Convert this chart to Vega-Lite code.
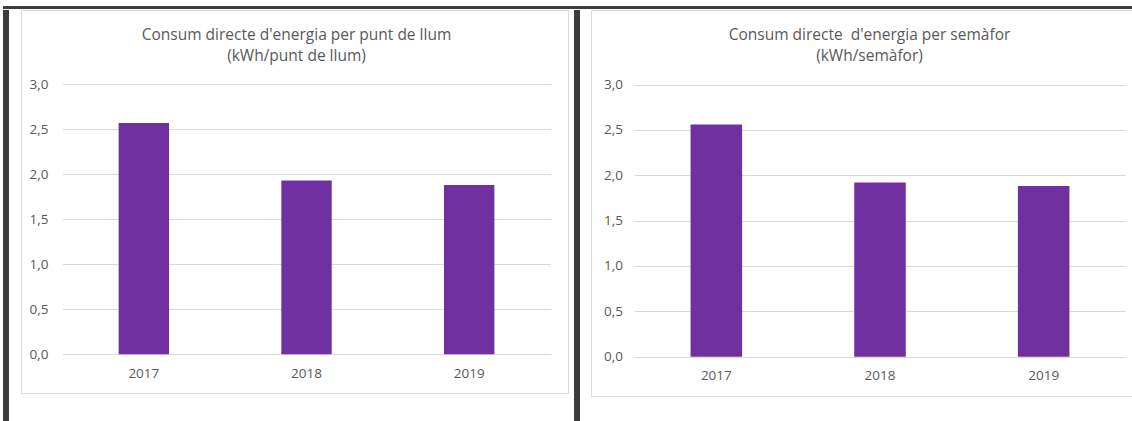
{
  "$schema": "https://vega.github.io/schema/vega-lite/v6.json",
  "padding": {"left": 3, "top": 6, "right": 0, "bottom": 0},
  "background": "white",
  "config": {"view": {"stroke": null}, "font": "Open Sans"},
  "datasets": {
    "punt_llum": [
      {"any": "2017", "valor": 2.57},
      {"any": "2018", "valor": 1.93},
      {"any": "2019", "valor": 1.88}
    ],
    "semafor": [
      {"any": "2017", "valor": 2.56},
      {"any": "2018", "valor": 1.92},
      {"any": "2019", "valor": 1.88}
    ]
  },
  "spacing": 0,
  "vconcat": [
    {
      "width": 1129, "height": 3,
      "view": {"fill": "#3c3c3c", "stroke": null},
      "data": {"values": []},
      "mark": "rect"
    },
    {
      "spacing": 11,
      "hconcat": [
        {
          "width": 6, "height": 412,
          "view": {"fill": "#3c3c3c", "stroke": null},
          "data": {"values": []},
          "mark": "rect"
        },
        {
          "spacing": 5,
          "hconcat": [
            {
              "width": 547, "height": 383,
              "view": {"fill": "white", "stroke": "#d9d9d9", "strokeWidth": 1},
              "title": {
                "text": ["Consum directe d'energia per punt de llum", "(kWh/punt de llum)"],
                "offset": -54, "fontSize": 15.5, "fontWeight": "normal", "color": "#595959",
                "font": "Open Sans", "lineHeight": 21, "anchor": "middle", "frame": "group", "dx": 2
              },
              "data": {"name": "punt_llum"},
              "mark": {"type": "bar", "color": "#7030a0"},
              "encoding": {
                "x": {
                  "field": "any", "type": "ordinal",
                  "scale": {"range": [41.5, 529.5], "paddingInner": 0.69, "paddingOuter": 0.345},
                  "axis": {"title": null, "domain": false, "ticks": false, "labelAngle": 0, "offset": -38.7,
                           "labelPadding": 12, "labelFontSize": 13.5, "labelColor": "#595959", "labelFont": "Open Sans"}
                },
                "y": {
                  "field": "valor", "type": "quantitative",
                  "scale": {"domain": [0, 3], "range": [344.3, 74.3], "nice": false},
                  "axis": {"title": null, "values": [0, 0.5, 1, 1.5, 2, 2.5, 3],
                           "labelExpr": "replace(format(datum.value, '.1f'), '.', ',')",
                           "domain": false, "ticks": false, "grid": true, "gridColor": "#d9d9d9",
                           "offset": -27, "labelPadding": 0, "labelFlush": false,
                           "labelFontSize": 13.5, "labelColor": "#595959", "labelFont": "Open Sans"}
                }
              }
            },
            {
              "spacing": 10,
              "hconcat": [
                {
                  "width": 6, "height": 412,
                  "view": {"fill": "#3c3c3c", "stroke": null},
                  "data": {"values": []},
                  "mark": "rect"
                },
                {
                  "width": 543, "height": 386,
                  "view": {"fill": "white", "stroke": "#d9d9d9", "strokeWidth": 1},
                  "title": {
                    "text": ["Consum directe \u00a0d'energia per semàfor", "(kWh/semàfor)"],
                    "offset": -54, "dx": 7, "fontSize": 15.5, "fontWeight": "normal", "color": "#595959",
                    "font": "Open Sans", "lineHeight": 21, "anchor": "middle", "frame": "group"
                  },
                  "data": {"name": "semafor"},
                  "mark": {"type": "bar", "color": "#7030a0"},
                  "encoding": {
                    "x": {
                      "field": "any", "type": "ordinal",
                      "scale": {"range": [43.5, 534.5], "paddingInner": 0.685, "paddingOuter": 0.3425},
                      "axis": {"title": null, "domain": false, "ticks": false, "labelAngle": 0, "offset": -39.3,
                               "labelPadding": 12, "labelFontSize": 13.5, "labelColor": "#595959", "labelFont": "Open Sans"}
                    },
                    "y": {
                      "field": "valor", "type": "quantitative",
                      "scale": {"domain": [0, 3], "range": [346.7, 74.5], "nice": false},
                      "axis": {"title": null, "values": [0, 0.5, 1, 1.5, 2, 2.5, 3],
                               "labelExpr": "replace(format(datum.value, '.1f'), '.', ',')",
                               "domain": false, "ticks": false, "grid": true, "gridColor": "#d9d9d9",
                               "offset": -31.5, "labelPadding": 0, "labelFlush": false,
                               "labelFontSize": 13.5, "labelColor": "#595959", "labelFont": "Open Sans"}
                    }
                  }
                }
              ]
            }
          ]
        }
      ]
    }
  ]
}
